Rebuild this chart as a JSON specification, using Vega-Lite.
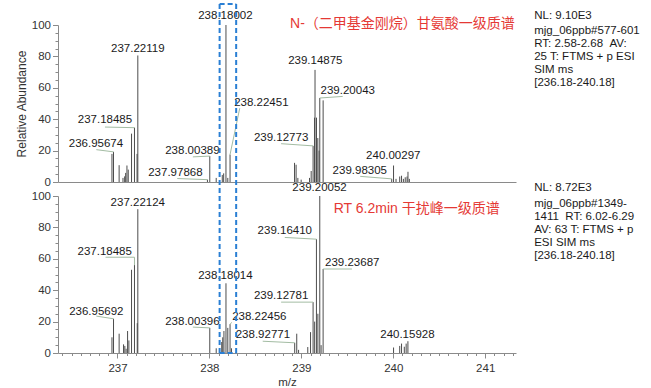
{
  "$schema": "https://vega.github.io/schema/vega-lite/v6.json",
  "background": "white",
  "padding": {"left": 15, "top": 3, "right": 5, "bottom": 3},
  "config": {
    "view": {"stroke": null},
    "font": "Liberation Sans",
    "axis": {
      "grid": false,
      "domainColor": "#8a8a8a",
      "tickColor": "#8a8a8a",
      "labelColor": "#333333",
      "labelFont": "Liberation Sans",
      "labelFontSize": 11.5,
      "labelOverlap": false,
      "labelBound": false,
      "titleFont": "Liberation Sans",
      "titleFontWeight": "normal",
      "titleColor": "#333333"
    }
  },
  "datasets": {
    "peaks": [
      {"panel": "top", "x": 236.94, "y": 17.9},
      {"panel": "top", "x": 236.95674, "y": 19.2},
      {"panel": "top", "x": 237.018, "y": 10.7},
      {"panel": "top", "x": 237.06, "y": 2.6},
      {"panel": "top", "x": 237.078, "y": 3.6},
      {"panel": "top", "x": 237.089, "y": 5.8},
      {"panel": "top", "x": 237.103, "y": 10.5},
      {"panel": "top", "x": 237.117, "y": 7.9},
      {"panel": "top", "x": 237.153, "y": 30.8},
      {"panel": "top", "x": 237.18485, "y": 34.6},
      {"panel": "top", "x": 237.213, "y": 17.9},
      {"panel": "top", "x": 237.22119, "y": 80.6},
      {"panel": "top", "x": 237.97868, "y": 1.5},
      {"panel": "top", "x": 238.00389, "y": 16.5},
      {"panel": "top", "x": 238.074, "y": 2.6},
      {"panel": "top", "x": 238.14, "y": 4.5},
      {"panel": "top", "x": 238.155, "y": 5.5},
      {"panel": "top", "x": 238.18002, "y": 100},
      {"panel": "top", "x": 238.2, "y": 2.6},
      {"panel": "top", "x": 238.22451, "y": 17.5},
      {"panel": "top", "x": 238.926, "y": 12.2},
      {"panel": "top", "x": 238.943, "y": 11},
      {"panel": "top", "x": 238.962, "y": 2.6},
      {"panel": "top", "x": 238.998, "y": 1.5},
      {"panel": "top", "x": 239.089, "y": 2.6},
      {"panel": "top", "x": 239.107, "y": 7},
      {"panel": "top", "x": 239.12773, "y": 23},
      {"panel": "top", "x": 239.143, "y": 41},
      {"panel": "top", "x": 239.14875, "y": 71.4},
      {"panel": "top", "x": 239.165, "y": 41},
      {"panel": "top", "x": 239.179, "y": 28},
      {"panel": "top", "x": 239.193, "y": 20},
      {"panel": "top", "x": 239.20043, "y": 53.5},
      {"panel": "top", "x": 239.237, "y": 52},
      {"panel": "top", "x": 239.98305, "y": 2},
      {"panel": "top", "x": 240.00297, "y": 10.5},
      {"panel": "top", "x": 240.03, "y": 2},
      {"panel": "top", "x": 240.07, "y": 3.5},
      {"panel": "top", "x": 240.09, "y": 4},
      {"panel": "top", "x": 240.11, "y": 2},
      {"panel": "top", "x": 240.13, "y": 3},
      {"panel": "top", "x": 240.15, "y": 3.5},
      {"panel": "top", "x": 240.16, "y": 6.5},
      {"panel": "top", "x": 240.175, "y": 2},
      {"panel": "bottom", "x": 236.94, "y": 10},
      {"panel": "bottom", "x": 236.95692, "y": 21.8},
      {"panel": "bottom", "x": 237.018, "y": 12.3},
      {"panel": "bottom", "x": 237.066, "y": 5.5},
      {"panel": "bottom", "x": 237.08, "y": 4.5},
      {"panel": "bottom", "x": 237.094, "y": 2.7},
      {"panel": "bottom", "x": 237.11, "y": 14},
      {"panel": "bottom", "x": 237.124, "y": 8},
      {"panel": "bottom", "x": 237.153, "y": 53},
      {"panel": "bottom", "x": 237.18485, "y": 56},
      {"panel": "bottom", "x": 237.215, "y": 19},
      {"panel": "bottom", "x": 237.22124, "y": 91.6},
      {"panel": "bottom", "x": 238.00396, "y": 16},
      {"panel": "bottom", "x": 238.074, "y": 3},
      {"panel": "bottom", "x": 238.134, "y": 7},
      {"panel": "bottom", "x": 238.145, "y": 10},
      {"panel": "bottom", "x": 238.158, "y": 14},
      {"panel": "bottom", "x": 238.18014, "y": 44.4},
      {"panel": "bottom", "x": 238.2, "y": 16},
      {"panel": "bottom", "x": 238.22456, "y": 18.4},
      {"panel": "bottom", "x": 238.24, "y": 3},
      {"panel": "bottom", "x": 238.92771, "y": 6.5},
      {"panel": "bottom", "x": 238.95, "y": 12.3},
      {"panel": "bottom", "x": 238.97, "y": 2},
      {"panel": "bottom", "x": 239.07, "y": 3.8},
      {"panel": "bottom", "x": 239.1, "y": 13.3},
      {"panel": "bottom", "x": 239.12781, "y": 32.4},
      {"panel": "bottom", "x": 239.145, "y": 20},
      {"panel": "bottom", "x": 239.1641, "y": 72.5},
      {"panel": "bottom", "x": 239.18, "y": 25},
      {"panel": "bottom", "x": 239.20052, "y": 100},
      {"panel": "bottom", "x": 239.215, "y": 5},
      {"panel": "bottom", "x": 239.23687, "y": 53.5},
      {"panel": "bottom", "x": 240.003, "y": 3.5},
      {"panel": "bottom", "x": 240.07, "y": 4.5},
      {"panel": "bottom", "x": 240.09, "y": 6},
      {"panel": "bottom", "x": 240.12, "y": 4},
      {"panel": "bottom", "x": 240.14, "y": 6},
      {"panel": "bottom", "x": 240.15928, "y": 7.5}
    ],
    "labels": [
      {"panel": "top", "x": 237.221, "y": 84.5, "text": "237.22119"},
      {"panel": "top", "x": 236.864, "y": 39.2, "text": "237.18485"},
      {"panel": "top", "x": 236.766, "y": 24.3, "text": "236.95674"},
      {"panel": "top", "x": 237.815, "y": 19.6, "text": "238.00389"},
      {"panel": "top", "x": 237.63, "y": 5.7, "text": "237.97868"},
      {"panel": "top", "x": 238.174, "y": 105.7, "text": "238.18002"},
      {"panel": "top", "x": 238.565, "y": 50.4, "text": "238.22451"},
      {"panel": "top", "x": 239.152, "y": 77, "text": "239.14875"},
      {"panel": "top", "x": 239.505, "y": 57.8, "text": "239.20043"},
      {"panel": "top", "x": 238.78, "y": 28.1, "text": "239.12773"},
      {"panel": "top", "x": 240.0, "y": 16.4, "text": "240.00297"},
      {"panel": "top", "x": 239.636, "y": 7.3, "text": "239.98305"},
      {"panel": "bottom", "x": 237.221, "y": 95.7, "text": "237.22124"},
      {"panel": "bottom", "x": 236.861, "y": 64.5, "text": "237.18485"},
      {"panel": "bottom", "x": 236.77, "y": 26.4, "text": "236.95692"},
      {"panel": "bottom", "x": 237.815, "y": 19.7, "text": "238.00396"},
      {"panel": "bottom", "x": 238.174, "y": 48.8, "text": "238.18014"},
      {"panel": "bottom", "x": 238.543, "y": 22.8, "text": "238.22456"},
      {"panel": "bottom", "x": 238.582, "y": 11.2, "text": "238.92771"},
      {"panel": "bottom", "x": 239.198, "y": 104.9, "text": "239.20052"},
      {"panel": "bottom", "x": 238.82, "y": 77.4, "text": "239.16410"},
      {"panel": "bottom", "x": 239.554, "y": 57.3, "text": "239.23687"},
      {"panel": "bottom", "x": 238.78, "y": 36, "text": "239.12781"},
      {"panel": "bottom", "x": 240.154, "y": 11.2, "text": "240.15928"}
    ],
    "leaders": [
      {"panel": "top", "x": 236.864, "y": 35, "x2": 237.18485, "y2": 34.6},
      {"panel": "top", "x": 236.77, "y": 20.6, "x2": 236.95674, "y2": 19.2},
      {"panel": "top", "x": 237.82, "y": 16, "x2": 238.00389, "y2": 16.5},
      {"panel": "top", "x": 237.65, "y": 2.2, "x2": 237.97868, "y2": 1.5},
      {"panel": "top", "x": 238.33, "y": 47, "x2": 238.22451, "y2": 17.5},
      {"panel": "top", "x": 239.45, "y": 54.5, "x2": 239.20043, "y2": 53.5},
      {"panel": "top", "x": 238.78, "y": 24.4, "x2": 239.12773, "y2": 23},
      {"panel": "top", "x": 239.64, "y": 3.6, "x2": 239.98305, "y2": 2},
      {"panel": "bottom", "x": 236.87, "y": 61, "x2": 237.18485, "y2": 61},
      {"panel": "bottom", "x": 237.18485, "y": 61, "x2": 237.18485, "y2": 56},
      {"panel": "bottom", "x": 236.77, "y": 23.5, "x2": 236.95692, "y2": 21.8},
      {"panel": "bottom", "x": 237.82, "y": 16.5, "x2": 238.00396, "y2": 16},
      {"panel": "bottom", "x": 238.245, "y": 19.5, "x2": 238.22456, "y2": 18.4},
      {"panel": "bottom", "x": 238.58, "y": 7.5, "x2": 238.92771, "y2": 6.5},
      {"panel": "bottom", "x": 238.82, "y": 73.6, "x2": 239.1641, "y2": 72.5},
      {"panel": "bottom", "x": 239.55, "y": 53.5, "x2": 239.23687, "y2": 53.5},
      {"panel": "bottom", "x": 238.78, "y": 32.4, "x2": 239.12781, "y2": 32.4}
    ],
    "box": [
      {"panel": "top", "x": 238.111, "y": 113.3, "x2": 238.111, "y2": -9.2},
      {"panel": "top", "x": 238.291, "y": 113.3, "x2": 238.291, "y2": -9.2},
      {"panel": "top", "x": 238.111, "y": 113.3, "x2": 238.291, "y2": 113.3},
      {"panel": "bottom", "x": 238.111, "y": 100, "x2": 238.111, "y2": 0},
      {"panel": "bottom", "x": 238.291, "y": 100, "x2": 238.291, "y2": 0},
      {"panel": "bottom", "x": 238.111, "y": 0, "x2": 238.291, "y2": 0}
    ],
    "notes": [
      {"panel": "top", "x": 240.1, "y": 100.4, "text": "N-（二甲基金刚烷）甘氨酸一级质谱"},
      {"panel": "bottom", "x": 240.255, "y": 91.6, "text": "RT 6.2min 干扰峰一级质谱"}
    ],
    "info": [
      {"panel": "top", "x": 241.533, "y": 109.6, "text": ["NL: 9.10E3"]},
      {"panel": "top", "x": 241.533, "y": 100, "text": ["mjg_06ppb#577-601", "\u00a0RT: 2.58-2.68 \u00a0AV:", "25 T: FTMS + p ESI", "SIM ms", "[236.18-240.18]"]},
      {"panel": "bottom", "x": 241.533, "y": 109.1, "text": ["NL: 8.72E3"]},
      {"panel": "bottom", "x": 241.533, "y": 98.5, "text": ["mjg_06ppb#1349-", "1411 \u00a0RT: 6.02-6.29", "AV: 63 T: FTMS + p", "ESI SIM ms", "[236.18-240.18]"]}
    ]
  },
  "vconcat": [
    {
      "width": 458,
      "height": 157,
      "encoding": {
        "x": {
          "field": "x", "type": "quantitative",
          "scale": {"domain": [236.353, 241.335], "nice": false, "zero": false},
          "axis": {"labels": false, "ticks": false, "title": null, "domain": true}
        },
        "y": {
          "field": "y", "type": "quantitative",
          "scale": {"domain": [0, 100], "nice": false},
          "axis": {
            "title": "Relative Abundance",
            "titleFontSize": 12,
            "titlePadding": 3,
            "values": [0, 5, 10, 15, 20, 25, 30, 35, 40, 45, 50, 55, 60, 65, 70, 75, 80, 85, 90, 95, 100],
            "labelExpr": "datum.value % 20 === 0 ? datum.label : ''",
            "tickSize": {"condition": {"test": "datum.value % 20 === 0", "value": 5.5}, "value": 3},
            "labelPadding": 2
          }
        }
      },
      "layer": [
        {
          "data": {"name": "peaks"},
          "transform": [{"filter": "datum.panel === 'top'"}],
          "mark": {"type": "rule", "color": "#4d4d4d", "strokeWidth": 1, "clip": false},
          "encoding": {"y2": {"datum": 0}}
        },
        {
          "data": {"name": "leaders"},
          "transform": [{"filter": "datum.panel === 'top'"}],
          "mark": {"type": "rule", "color": "#a3bca3", "strokeWidth": 1, "clip": false},
          "encoding": {"x2": {"field": "x2"}, "y2": {"field": "y2"}}
        },
        {
          "data": {"name": "labels"},
          "transform": [{"filter": "datum.panel === 'top'"}],
          "mark": {"type": "text", "fontSize": 11.5, "color": "#1a1a1a", "align": "center", "baseline": "middle", "clip": false},
          "encoding": {"text": {"field": "text", "type": "nominal"}}
        },
        {
          "data": {"name": "box"},
          "transform": [{"filter": "datum.panel === 'top'"}],
          "mark": {"type": "rule", "color": "#2a7fd4", "strokeWidth": 2, "strokeDash": [5, 3], "clip": false},
          "encoding": {"x2": {"field": "x2"}, "y2": {"field": "y2"}}
        },
        {
          "data": {"name": "notes"},
          "transform": [{"filter": "datum.panel === 'top'"}],
          "mark": {"type": "text", "fontSize": 14, "font": "Liberation Sans, Noto Sans CJK SC", "color": "#e53935", "align": "center", "baseline": "middle", "clip": false},
          "encoding": {"text": {"field": "text", "type": "nominal"}}
        },
        {
          "data": {"name": "info"},
          "transform": [{"filter": "datum.panel === 'top'"}],
          "mark": {"type": "text", "fontSize": 11.5, "color": "#1a1a1a", "align": "left", "baseline": "top", "lineHeight": 13, "clip": false},
          "encoding": {"text": {"field": "text", "type": "nominal"}}
        }
      ]
    },
    {
      "width": 458,
      "height": 157,
      "encoding": {
        "x": {
          "field": "x", "type": "quantitative",
          "scale": {"domain": [236.353, 241.335], "nice": false, "zero": false},
          "axis": {
            "title": "m/z",
            "titleFontSize": 11.5,
            "titlePadding": 3,
            "values": [236.4, 236.5, 236.6, 236.7, 236.8, 236.9, 237, 237.1, 237.2, 237.3, 237.4, 237.5, 237.6, 237.7, 237.8, 237.9, 238, 238.1, 238.2, 238.3, 238.4, 238.5, 238.6, 238.7, 238.8, 238.9, 239, 239.1, 239.2, 239.3, 239.4, 239.5, 239.6, 239.7, 239.8, 239.9, 240, 240.1, 240.2, 240.3, 240.4, 240.5, 240.6, 240.7, 240.8, 240.9, 241, 241.1, 241.2, 241.3],
            "labelExpr": "datum.value % 1 === 0 ? format(datum.value, 'd') : ''",
            "tickSize": {"condition": {"test": "datum.value % 1 === 0", "value": 5}, "value": 2.5},
            "labelPadding": 4
          }
        },
        "y": {
          "field": "y", "type": "quantitative",
          "scale": {"domain": [0, 100], "nice": false},
          "axis": {
            "title": null,
            "values": [0, 5, 10, 15, 20, 25, 30, 35, 40, 45, 50, 55, 60, 65, 70, 75, 80, 85, 90, 95, 100],
            "labelExpr": "datum.value % 20 === 0 ? datum.label : ''",
            "tickSize": {"condition": {"test": "datum.value % 20 === 0", "value": 5.5}, "value": 3},
            "labelPadding": 2
          }
        }
      },
      "layer": [
        {
          "data": {"name": "peaks"},
          "transform": [{"filter": "datum.panel === 'bottom'"}],
          "mark": {"type": "rule", "color": "#4d4d4d", "strokeWidth": 1, "clip": false},
          "encoding": {"y2": {"datum": 0}}
        },
        {
          "data": {"name": "leaders"},
          "transform": [{"filter": "datum.panel === 'bottom'"}],
          "mark": {"type": "rule", "color": "#a3bca3", "strokeWidth": 1, "clip": false},
          "encoding": {"x2": {"field": "x2"}, "y2": {"field": "y2"}}
        },
        {
          "data": {"name": "labels"},
          "transform": [{"filter": "datum.panel === 'bottom'"}],
          "mark": {"type": "text", "fontSize": 11.5, "color": "#1a1a1a", "align": "center", "baseline": "middle", "clip": false},
          "encoding": {"text": {"field": "text", "type": "nominal"}}
        },
        {
          "data": {"name": "box"},
          "transform": [{"filter": "datum.panel === 'bottom'"}],
          "mark": {"type": "rule", "color": "#2a7fd4", "strokeWidth": 2, "strokeDash": [5, 3], "clip": false},
          "encoding": {"x2": {"field": "x2"}, "y2": {"field": "y2"}}
        },
        {
          "data": {"name": "notes"},
          "transform": [{"filter": "datum.panel === 'bottom'"}],
          "mark": {"type": "text", "fontSize": 14, "font": "Liberation Sans, Noto Sans CJK SC", "color": "#e53935", "align": "center", "baseline": "middle", "clip": false},
          "encoding": {"text": {"field": "text", "type": "nominal"}}
        },
        {
          "data": {"name": "info"},
          "transform": [{"filter": "datum.panel === 'bottom'"}],
          "mark": {"type": "text", "fontSize": 11.5, "color": "#1a1a1a", "align": "left", "baseline": "top", "lineHeight": 13, "clip": false},
          "encoding": {"text": {"field": "text", "type": "nominal"}}
        }
      ]
    }
  ],
  "spacing": 14,
  "bounds": "flush"
}
